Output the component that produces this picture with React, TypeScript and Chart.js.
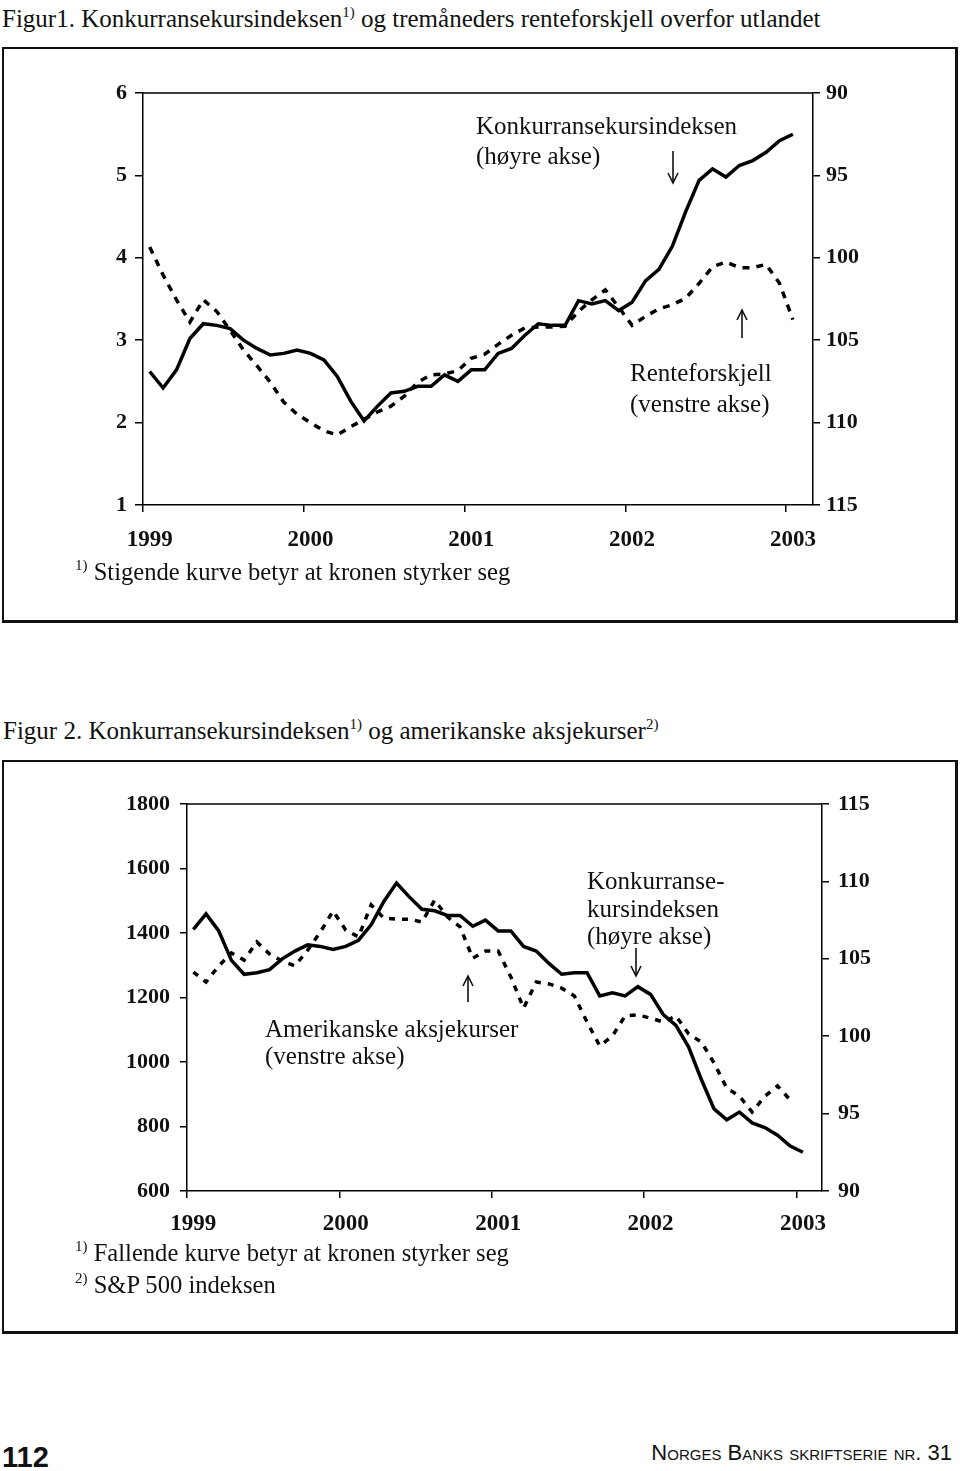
import React, { useEffect, useRef } from 'react';
import { Chart, registerables } from 'chart.js';

Chart.register(...registerables);

// ---------- data ----------
const MONTHS = ['jan', 'feb', 'mar', 'apr', 'mai', 'jun', 'jul', 'aug', 'sep', 'okt', 'nov', 'des'];
const YEARS = ['1999', '2000', '2001', '2002', '2003'];
// monthly categories, Jan 1999 – Feb 2003
const monthLabels: string[] = YEARS.flatMap((y) => MONTHS.map((m) => `${m} ${y}`)).slice(0, 50);

// Konkurransekursindeksen (index), Jan 1999 – Jan 2003
const kkiValues = [
  106.9, 107.9, 106.8, 104.9, 104.0, 104.1, 104.3, 105.0, 105.5, 105.9,
  105.8, 105.6, 105.8, 106.2, 107.2, 108.7, 109.9, 109.0, 108.2, 108.1,
  107.8, 107.8, 107.1, 107.5, 106.8, 106.8, 105.8, 105.5, 104.7, 104.0,
  104.1, 104.1, 102.6, 102.8, 102.6, 103.2, 102.7, 101.4, 100.7, 99.3,
  97.2, 95.3, 94.6, 95.1, 94.4, 94.1, 93.6, 92.9, 92.5,
];

// Tremåneders renteforskjell (prosentpoeng)
const renteValues = [
  4.13, 3.79, 3.49, 3.22, 3.49, 3.35, 3.12, 2.88, 2.69, 2.49,
  2.25, 2.10, 2.00, 1.90, 1.85, 1.95, 2.04, 2.13, 2.20, 2.32,
  2.49, 2.58, 2.59, 2.63, 2.78, 2.83, 2.95, 3.06, 3.15, 3.16,
  3.16, 3.17, 3.35, 3.49, 3.61, 3.40, 3.18, 3.29, 3.38, 3.43,
  3.51, 3.69, 3.89, 3.95, 3.88, 3.88, 3.92, 3.69, 3.25,
];

// S&P 500, Jan 1999 – Dec 2002
const aksjeValues = [
  1279, 1248, 1298, 1338, 1316, 1372, 1335, 1313, 1298, 1347,
  1403, 1468, 1409, 1388, 1487, 1446, 1443, 1443, 1434, 1502,
  1450, 1419, 1322, 1344, 1344, 1264, 1167, 1248, 1242, 1229,
  1205, 1124, 1050, 1081, 1143, 1146, 1136, 1124, 1143, 1087,
  1062, 997, 919, 894, 845, 894, 926, 882,
];

const fig1LeftTicks = [1, 2, 3, 4, 5, 6];
const fig1RightTicks = [90, 95, 100, 105, 110, 115];
const fig2LeftTicks = [600, 800, 1000, 1200, 1400, 1600, 1800];
const fig2RightTicks = [90, 95, 100, 105, 110, 115];

// ---------- styling ----------
const SERIF = "'Liberation Serif', 'Times New Roman', serif";
const SANS = "'Liberation Sans', Arial, sans-serif";
const INK = '#111';

const frameTop = {
  id: 'frameTop',
  afterDraw(chart: any) {
    const { ctx, chartArea } = chart;
    ctx.save();
    ctx.strokeStyle = '#000';
    ctx.lineWidth = 1.5;
    ctx.beginPath();
    ctx.moveTo(chartArea.left, chartArea.top);
    ctx.lineTo(chartArea.right, chartArea.top);
    ctx.stroke();
    ctx.restore();
  },
};

interface Opts {
  leftTicks: number[];
  rightTicks: number[];
  rightReverse: boolean;
  solid: number[];
  dashed: number[];
  dash: number[];
  leftW: number;
  rightW: number;
  xH: number;
  xPad: number;
  yLPad: number;
  yRPad: number;
  yLTick: number;
  yRTick: number;
  pad: { top: number; bottom: number; left: number; right: number };
}

function yAxis(ticks: number[], position: string, reverse: boolean, w: number, pad: number, tl: number) {
  return {
    type: 'linear',
    position,
    reverse,
    min: ticks[0],
    max: ticks[ticks.length - 1],
    afterBuildTicks: (s: any) => {
      s.ticks = ticks.map((v) => ({ value: v }));
    },
    ticks: {
      padding: pad,
      color: INK,
      font: { family: SERIF, size: 22, weight: 'bold' },
      callback: (v: any) => String(v),
    },
    grid: { drawOnChartArea: false, drawTicks: true, tickLength: tl, color: '#000', lineWidth: 1.5 },
    border: { display: true, color: '#000', width: 1.5 },
    afterFit: (s: any) => {
      s.width = w;
    },
  };
}

function buildConfig(o: Opts): any {
  const isJan = (i: number) => monthLabels[i] !== undefined && monthLabels[i].startsWith('jan');
  return {
    type: 'line',
    data: {
      labels: monthLabels,
      datasets: [
        {
          data: o.solid,
          yAxisID: 'yR',
          borderColor: '#000',
          borderWidth: 3.5,
          pointRadius: 0,
          tension: 0,
          fill: false,
        },
        {
          data: o.dashed,
          yAxisID: 'yL',
          borderColor: '#000',
          borderWidth: 3.5,
          borderDash: o.dash,
          borderCapStyle: 'butt',
          pointRadius: 0,
          tension: 0,
          fill: false,
        },
      ],
    },
    options: {
      animation: false,
      responsive: false,
      devicePixelRatio: 1,
      events: [],
      layout: { padding: o.pad },
      plugins: { legend: { display: false }, tooltip: { enabled: false }, title: { display: false } },
      scales: {
        x: {
          type: 'category',
          position: 'bottom',
          offset: true,
          grid: {
            display: true,
            drawOnChartArea: false,
            drawTicks: true,
            tickLength: 7,
            offset: true,
            lineWidth: 1.5,
            color: (ctx: any) => (ctx.type === 'tick' && isJan(ctx.index) ? '#000' : 'rgba(0,0,0,0)'),
          },
          border: { display: true, color: '#000', width: 1.5 },
          ticks: {
            autoSkip: false,
            maxRotation: 0,
            minRotation: 0,
            padding: o.xPad,
            color: INK,
            font: { family: SERIF, size: 23, weight: 'bold' },
            callback: (_v: any, i: number) => (isJan(i) ? monthLabels[i].slice(4) : ''),
          },
          afterFit: (s: any) => {
            s.height = o.xH;
          },
        },
        yL: yAxis(o.leftTicks, 'left', false, o.leftW, o.yLPad, o.yLTick),
        yR: yAxis(o.rightTicks, 'right', o.rightReverse, o.rightW, o.yRPad, o.yRTick),
      },
    },
    plugins: [frameTop],
  };
}

function ChartCanvas({ config, left, top, width, height }: { config: any; left: number; top: number; width: number; height: number }) {
  const ref = useRef<HTMLCanvasElement>(null);
  useEffect(() => {
    const chart = new Chart(ref.current as HTMLCanvasElement, config);
    return () => chart.destroy();
  }, []);
  return (
    <canvas
      ref={ref}
      width={width}
      height={height}
      style={{ position: 'absolute', left, top, width, height }}
    />
  );
}

function Txt({ x, cy, size = 25, children, style }: { x: number; cy: number; size?: number; children: any; style?: any }) {
  return (
    <div
      style={{
        position: 'absolute',
        left: x,
        top: cy - size * 0.58,
        fontFamily: SERIF,
        fontSize: size,
        lineHeight: `${Math.round(size * 1.15)}px`,
        whiteSpace: 'nowrap',
        color: INK,
        ...style,
      }}
    >
      {children}
    </div>
  );
}

function Sup({ children, size = 15 }: { children: any; size?: number }) {
  return <span style={{ fontSize: size, position: 'relative', top: -10, verticalAlign: 'baseline' }}>{children}</span>;
}

function Arrow({ x, tail, tip }: { x: number; tail: number; tip: number }) {
  const top = Math.min(tail, tip) - 3;
  const h = Math.abs(tip - tail) + 6;
  const dir = tip > tail ? 1 : -1;
  const ty = tip - top;
  return (
    <svg style={{ position: 'absolute', left: x - 8, top, overflow: 'visible' }} width={16} height={h}>
      <line x1={8} y1={tail - top} x2={8} y2={ty} stroke={INK} strokeWidth={1.6} />
      <polyline
        points={`${8 - 5},${ty - dir * 10} 8,${ty} ${8 + 5},${ty - dir * 10}`}
        fill="none"
        stroke={INK}
        strokeWidth={1.6}
      />
    </svg>
  );
}

const boxStyle = (top: number, height: number): any => ({
  position: 'absolute',
  left: 2,
  top,
  width: 956,
  height,
  border: '2px solid #111',
  borderBottomWidth: 3,
  borderRightWidth: 3,
  boxSizing: 'border-box',
});

export default function App() {
  const fig1 = buildConfig({
    leftTicks: fig1LeftTicks,
    rightTicks: fig1RightTicks,
    rightReverse: true,
    solid: kkiValues,
    dashed: renteValues,
    dash: [7, 7],
    leftW: 143,
    rightW: 147,
    xH: 45,
    xPad: 14,
    yLPad: 8,
    yRPad: 6,
    yLTick: 8,
    yRTick: 7,
    pad: { top: 33, bottom: 60, left: 0, right: 0 },
  });
  const fig2 = buildConfig({
    leftTicks: fig2LeftTicks,
    rightTicks: fig2RightTicks,
    rightReverse: false,
    solid: kkiValues,
    dashed: aksjeValues,
    dash: [6, 7],
    leftW: 187,
    rightW: 138,
    xH: 45,
    xPad: 12,
    yLPad: 10,
    yRPad: 9,
    yLTick: 7,
    yRTick: 7,
    pad: { top: 29, bottom: 39, left: 0, right: 0 },
  });

  return (
    <div style={{ position: 'absolute', left: 0, top: 0, width: 960, height: 1471, background: '#fff', overflow: 'hidden' }}>
      {/* Figur 1 */}
      <Txt x={2} cy={18}>
        Figur1. Konkurransekursindeksen<Sup>1)</Sup> og tremåneders renteforskjell overfor utlandet
      </Txt>
      <div style={boxStyle(47, 576)} />
      <ChartCanvas config={fig1} left={0} top={60} width={960} height={550} />
      <Txt x={476} cy={125}>Konkurransekursindeksen</Txt>
      <Txt x={476} cy={155}>(høyre akse)</Txt>
      <Arrow x={673} tail={151} tip={183} />
      <Arrow x={742} tail={338} tip={310} />
      <Txt x={630} cy={372}>Renteforskjell</Txt>
      <Txt x={630} cy={403}>(venstre akse)</Txt>
      <Txt x={75} cy={572} size={24.6}>
        <Sup>1)</Sup> Stigende kurve betyr at kronen styrker seg
      </Txt>

      {/* Figur 2 */}
      <Txt x={3} cy={730}>
        Figur 2. Konkurransekursindeksen<Sup>1)</Sup> og amerikanske aksjekurser<Sup>2)</Sup>
      </Txt>
      <div style={boxStyle(760, 574)} />
      <ChartCanvas config={fig2} left={0} top={775} width={960} height={500} />
      <Txt x={587} cy={880}>Konkurranse-</Txt>
      <Txt x={587} cy={908}>kursindeksen</Txt>
      <Txt x={587} cy={935}>(høyre akse)</Txt>
      <Arrow x={636} tail={948} tip={976} />
      <Arrow x={468} tail={1002} tip={976} />
      <Txt x={265} cy={1028}>Amerikanske aksjekurser</Txt>
      <Txt x={265} cy={1055}>(venstre akse)</Txt>
      <Txt x={75} cy={1253} size={24.6}>
        <Sup>1)</Sup> Fallende kurve betyr at kronen styrker seg
      </Txt>
      <Txt x={75} cy={1285} size={24.6}>
        <Sup>2)</Sup> S&amp;P 500 indeksen
      </Txt>

      {/* footer */}
      <Txt x={2} cy={1458} size={29} style={{ fontFamily: SANS, fontWeight: 'bold' }}>
        112
      </Txt>
      <div
        style={{
          position: 'absolute',
          right: 8,
          top: 1453 - 22 * 0.58,
          fontFamily: SANS,
          fontSize: 22,
          lineHeight: '25px',
          fontVariant: 'small-caps',
          whiteSpace: 'nowrap',
          color: INK,
        }}
      >
        Norges Banks skriftserie nr. 31
      </div>
    </div>
  );
}
